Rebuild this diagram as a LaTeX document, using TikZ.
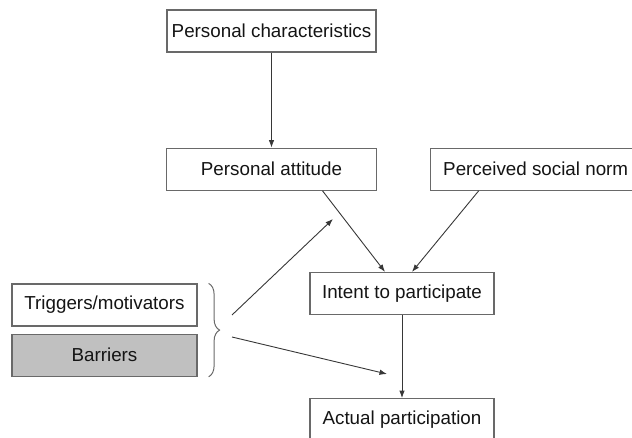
\documentclass[tikz,border=0pt]{standalone}
\usepackage{fontspec}
\setmainfont{Liberation Sans}
\usetikzlibrary{arrows.meta,positioning,decorations.pathreplacing}
\definecolor{boxgray}{RGB}{105,105,105}
\definecolor{linegray}{RGB}{55,55,55}
\definecolor{barfill}{RGB}{192,192,192}
\definecolor{textcol}{RGB}{20,20,20}

\begin{document}
\begin{tikzpicture}[
  x=1pt, y=-1pt, >={Latex[length=7.5pt,width=5.5pt]},
  bbox/.style={rectangle,draw=boxgray,line width=1.2pt,align=center,text=textcol,
    font=\fontsize{18.8}{22}\selectfont,minimum height=42pt,inner sep=0pt},
  barb/.style={bbox,fill=barfill},
  arrow/.style={->,line width=0.9pt,color=linegray},
  bracel/.style={decorate,decoration={brace,amplitude=11pt},line width=1pt,color=boxgray},
]
\useasboundingbox (0,0) rectangle (632,438);
\clip (0,0) rectangle (632,438);

\node[bbox,minimum width=209pt] (pchar) at (271.5,31) {Personal characteristics};
\node[bbox,minimum width=210pt,below=95pt of pchar] (patt) {Personal attitude};
\node[bbox,minimum width=210pt,right=53pt of patt] (pnorm) {Perceived social norm};
\node[bbox,minimum width=184pt] (intent) at (402,293.5) {Intent to participate};
\node[bbox,minimum width=184pt,below=83pt of intent] (actual) {Actual participation};
\node[bbox,minimum width=185pt] (trig) at (104.5,305) {Triggers/motivators};
\node[barb,minimum width=185pt,below=7pt of trig] (barr) {Barriers};

% brace and its two loose arrows
\draw[bracel] ([xshift=11pt]trig.north east) -- ([xshift=11pt]barr.south east);
\coordinate (bup) at (232,315);
\coordinate (bdown) at (232,337);
\coordinate (upend) at (333,219);
\coordinate (downend) at (387,374);

\draw[arrow] (pchar) -- (patt);
\draw[arrow] ([xshift=51pt]patt.south) -- ([xshift=-17pt]intent.north);
\draw[arrow] ([xshift=-57pt]pnorm.south) -- ([xshift=10pt]intent.north);
\draw[arrow] (intent) -- (actual);
\draw[arrow] (bup) -- (upend);
\draw[arrow] (bdown) -- (downend);
\end{tikzpicture}
\end{document}
